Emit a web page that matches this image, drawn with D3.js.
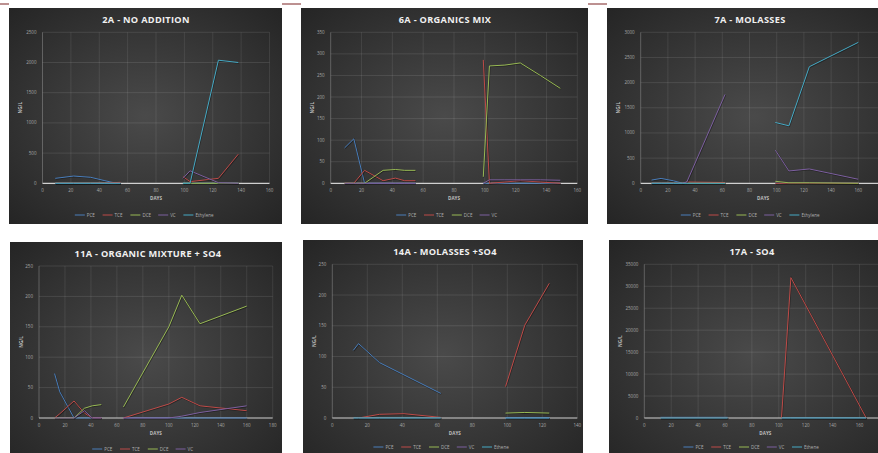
<!DOCTYPE html>
<html>
<head>
<meta charset="utf-8">
<script src="https://cdn.jsdelivr.net/npm/d3@7"></script>
<style>
  body { margin: 0; background: #fff; }
  svg { display: block; }
  text { font-family: "Open Sans", "DejaVu Sans", sans-serif; }
</style>
</head>
<body>
<svg id="chart" width="878" height="453"></svg>
<script>
// series names & colours
var seriesKeys = ["PCE", "TCE", "DCE", "VC", "ETH"];
var seriesColors = { PCE: "#4a7ebb", TCE: "#be4b48", DCE: "#98b954", VC: "#7d60a0", ETH: "#46aac5" };

// 2A - NO ADDITION  (null = break between the two sampling runs)
var days2A = [9, 22, 34, 44, 49, 55, null, 99, 104, 124, 138];
var pce2A = [82, 120, 99, 43, 16, 0, null, 0, 0, 0, 0];
var tce2A = [0, 0, 0, 5, 10, 16, null, 110, 27, 82, 482];
var dce2A = [0, 0, 0, 0, 0, 0, null, 0, 0, 0, 0];
var vc2A = [0, 0, 0, 0, 0, 0, null, 82, 207, 10, 0];
var eth2A = [0, 0, 0, 0, 0, 0, null, 0, 0, 2038, 2000];

// 6A - ORGANICS MIX
var days6A = [9, 15, 22, 34, 42, 48, 55, null, 99, 103, 113, 123, 136, 149];
var pce6A = [82, 103, 0, 0, 0, 0, 0, null, 0, 0, 0, 0, 0, 0];
var tce6A = [0, 0, 30, 6, 12, 6, 6, null, 286, 0, 3, 6, 3, 0];
var dce6A = [0, 0, 0, 30, 32, 30, 30, null, 15, 272, 274, 279, 250, 220];
var vc6A = [0, 0, 0, 0, 0, 0, 0, null, 0, 8, 8, 8, 8, 7];

// 7A - MOLASSES
var days7A = [8, 15, 24, 31, 34, 62, null, 99, 109, 124, 160];
var pce7A = [64, 97, 50, 0, 0, 0, null, 0, 0, 0, 0];
var tce7A = [0, 0, 0, 0, 25, 15, null, 0, 0, 0, 0];
var dce7A = [0, 0, 0, 0, 0, 0, null, 40, 10, 10, 0];
var vc7A = [0, 0, 0, 0, 30, 1765, null, 657, 245, 285, 80];
var eth7A = [0, 0, 0, 0, 0, 0, null, 1208, 1142, 2316, 2800];

// 11A - ORGANIC MIXTURE + SO4
var days11A = [12, 16, 27, 35, 41, 48, null, 65, 100, 110, 124, 160];
var pce11A = [73, 43, 0, 0, 0, 0, null, 0, 0, 0, 0, 0];
var tce11A = [0, 7, 28, 8, 0, 0, null, 0, 23, 34, 20, 12];
var dce11A = [0, 0, 0, 16, 20, 22, null, 18, 150, 202, 155, 184];
var vc11A = [0, 0, 0, 12, 0, 0, null, 0, 0, 3, 9, 20];

// 14A - MOLASSES +SO4
var days14A = [12, 15, 27, 41, 62, null, 99, 110, 124];
var pce14A = [110, 121, 90, 70, 40, null, 0, 0, 0];
var tce14A = [0, 0, 6, 7, 1, null, 51, 151, 219];
var dce14A = [0, 0, 0, 0, 0, null, 8, 9, 8];
var vc14A = [0, 0, 0, 0, 0, null, 0, 0, 0];
var eth14A = [0, 0, 0, 0, 0, null, 0, 0, 0];

// 17A - SO4
var days17A = [12, 62, null, 102, 109, 165];
var pce17A = [150, 150, null, 0, 0, 0];
var tce17A = [0, 0, null, 0, 31965, 0];
var dce17A = [0, 0, null, 0, 0, 0];
var vc17A = [0, 0, null, 0, 0, 0];
var eth17A = [0, 0, null, 0, 0, 0];

var svg = d3.select("#chart");

// radial background like the excel dark style
var defs = svg.append("defs");
var grad = defs.append("radialGradient").attr("id", "bg")
    .attr("cx", "50%").attr("cy", "50%").attr("r", "72%");
grad.append("stop").attr("offset", "0%").attr("stop-color", "#4a4a4a");
grad.append("stop").attr("offset", "100%").attr("stop-color", "#242424");

// thin rule at the very top of the page
svg.append("line").attr("x1", 0).attr("x2", 607).attr("y1", 4).attr("y2", 4)
    .attr("stroke", "#7a2222").attr("stroke-width", 1);

var panels = [
    { title: "2A - NO ADDITION", days: days2A, series: { PCE: pce2A, TCE: tce2A, DCE: dce2A, VC: vc2A, ETH: eth2A }, ethName: "Ethylene",
      box: [9, 8, 282, 224], xr: [42.5, 269.5], xMax: 160, yr: [183.3, 32.3], yMax: 2500, yStep: 500, tx: 146, legendX: 146 },
    { title: "6A - ORGANICS MIX", days: days6A, series: { PCE: pce6A, TCE: tce6A, DCE: dce6A, VC: vc6A },
      box: [301, 8, 588, 224], xr: [330.7, 577.3], xMax: 160, yr: [183.3, 32.3], yMax: 350, yStep: 50, tx: 445, legendX: 447 },
    { title: "7A - MOLASSES", days: days7A, series: { PCE: pce7A, TCE: tce7A, DCE: dce7A, VC: vc7A, ETH: eth7A }, ethName: "Ethylene",
      box: [607, 8, 900, 224], xr: [640.7, 885.5], xMax: 180, yr: [183.3, 32.3], yMax: 3000, yStep: 500, tx: 750, legendX: 752 },
    { title: "11A - ORGANIC MIXTURE + SO4", days: days11A, series: { PCE: pce11A, TCE: tce11A, DCE: dce11A, VC: vc11A },
      box: [10, 242, 282, 470], xr: [39, 272.7], xMax: 180, yr: [418, 266], yMax: 250, yStep: 50, tx: 148, legendX: 143 },
    { title: "14A - MOLASSES +SO4", days: days14A, series: { PCE: pce14A, TCE: tce14A, DCE: dce14A, VC: vc14A, ETH: eth14A }, ethName: "Ethene",
      box: [303, 240, 583, 470], xr: [332.3, 577.3], xMax: 140, yr: [418, 264.3], yMax: 250, yStep: 50, tx: 445, legendX: 442 },
    { title: "17A - SO4", days: days17A, series: { PCE: pce17A, TCE: tce17A, DCE: dce17A, VC: vc17A, ETH: eth17A }, ethName: "Ethene",
      box: [609, 240, 900, 470], xr: [644.3, 886.4], xMax: 180, yr: [418, 264.3], yMax: 35000, yStep: 5000, tx: 752, legendX: 752 }
];

panels.forEach(drawPanel);

function drawPanel(p) {
    var b = p.box;
    var g = svg.append("g");

    // white margin hides the top rule behind the top-row charts
    if (b[1] < 20) {
        g.append("rect").attr("x", b[0]).attr("y", 0).attr("width", b[2] - b[0]).attr("height", b[1])
            .attr("fill", "#fff");
    }
    g.append("rect").attr("x", b[0]).attr("y", b[1]).attr("width", b[2] - b[0]).attr("height", b[3] - b[1])
        .attr("fill", "url(#bg)");

    var x = d3.scaleLinear().domain([0, p.xMax]).range(p.xr);
    var y = d3.scaleLinear().domain([0, p.yMax]).range(p.yr);
    var xTicks = d3.range(0, p.xMax + 1, 20);
    var yTicks = d3.range(0, p.yMax + 1, p.yStep);

    // gridlines
    g.selectAll(".hg").data(yTicks.slice(1)).enter().append("line")
        .attr("x1", p.xr[0]).attr("x2", p.xr[1])
        .attr("y1", function (d) { return y(d); }).attr("y2", function (d) { return y(d); })
        .attr("stroke", "#ffffff").attr("stroke-opacity", 0.13).attr("stroke-width", 0.8);
    g.selectAll(".vg").data(xTicks).enter().append("line")
        .attr("y1", p.yr[0]).attr("y2", p.yr[1])
        .attr("x1", function (d) { return x(d); }).attr("x2", function (d) { return x(d); })
        .attr("stroke", "#ffffff").attr("stroke-opacity", function (d) { return d === 0 ? 0.3 : 0.11; })
        .attr("stroke-width", 0.8);

    // x axis line
    g.append("line").attr("x1", p.xr[0]).attr("x2", p.xr[1]).attr("y1", p.yr[0]).attr("y2", p.yr[0])
        .attr("stroke", "#d0d0d0").attr("stroke-width", 1.2);

    // tick labels (the ones past the page edge are cut off in the original too)
    g.selectAll(".yl").data(yTicks).enter().append("text")
        .attr("x", p.xr[0] - 6).attr("y", function (d) { return y(d) + 1.5; })
        .attr("text-anchor", "end").attr("font-size", 4.5).attr("fill", "#a8a8a8")
        .text(function (d) { return d; });
    g.selectAll(".xl").data(xTicks.filter(function (d) { return x(d) < 870; })).enter().append("text")
        .attr("x", function (d) { return x(d); }).attr("y", p.yr[0] + 8.5)
        .attr("text-anchor", "middle").attr("font-size", 4.5).attr("fill", "#a8a8a8")
        .text(function (d) { return d; });

    // axis titles
    g.append("text").attr("x", (p.xr[0] + p.xr[1]) / 2).attr("y", p.yr[0] + 17)
        .attr("text-anchor", "middle").attr("font-size", 4.6).attr("font-weight", 700)
        .attr("fill", "#bdbdbd").text("DAYS");
    var ly = (p.yr[0] + p.yr[1]) / 2;
    g.append("text").attr("transform", "translate(" + (b[0] + 13) + "," + ly + ") rotate(-90)")
        .attr("text-anchor", "middle").attr("font-size", 4.6).attr("font-weight", 700)
        .attr("fill", "#bdbdbd").text("NG/L");

    // title
    g.append("text").attr("x", p.tx).attr("y", b[1] + 14.5)
        .attr("text-anchor", "middle").attr("font-size", 9.2).attr("font-weight", 700)
        .attr("letter-spacing", 0.3).attr("fill", "#f0f0f0").text(p.title);

    // series lines
    var keys = seriesKeys.filter(function (k) { return p.series[k]; });
    var line = d3.line()
        .defined(function (d) { return d[0] != null && d[1] != null; })
        .x(function (d) { return x(d[0]); })
        .y(function (d) { return y(d[1]); });

    keys.forEach(function (k) {
        var pts = p.days.map(function (d, i) { return [d, p.series[k][i]]; });
        g.append("path").attr("d", line(pts)).attr("fill", "none")
            .attr("stroke", "#000").attr("stroke-opacity", 0.35).attr("stroke-width", 1.4)
            .attr("transform", "translate(0.5,0.6)");
        g.append("path").attr("d", line(pts)).attr("fill", "none")
            .attr("stroke", seriesColors[k]).attr("stroke-width", 1)
            .attr("stroke-linejoin", "round");
    });

    // legend
    var names = keys.map(function (k) { return k === "ETH" ? p.ethName : k; });
    var legY = b[1] + 207;
    var lg = g.append("g");
    var cx = 0;
    var items = [];
    names.forEach(function (n, i) {
        var tw = n.length * 2.6 + 1;
        items.push({ name: n, key: keys[i], x: cx, tw: tw });
        cx += 12 + tw + 7;
    });
    var total = cx - 7;
    var start = p.legendX - total / 2;
    items.forEach(function (it) {
        lg.append("line").attr("x1", start + it.x).attr("x2", start + it.x + 10)
            .attr("y1", legY).attr("y2", legY)
            .attr("stroke", seriesColors[it.key]).attr("stroke-width", 1);
        lg.append("text").attr("x", start + it.x + 12).attr("y", legY + 1.6)
            .attr("font-size", 4.5).attr("fill", "#b0b0b0").text(it.name);
    });
}
</script>
</body>
</html>
